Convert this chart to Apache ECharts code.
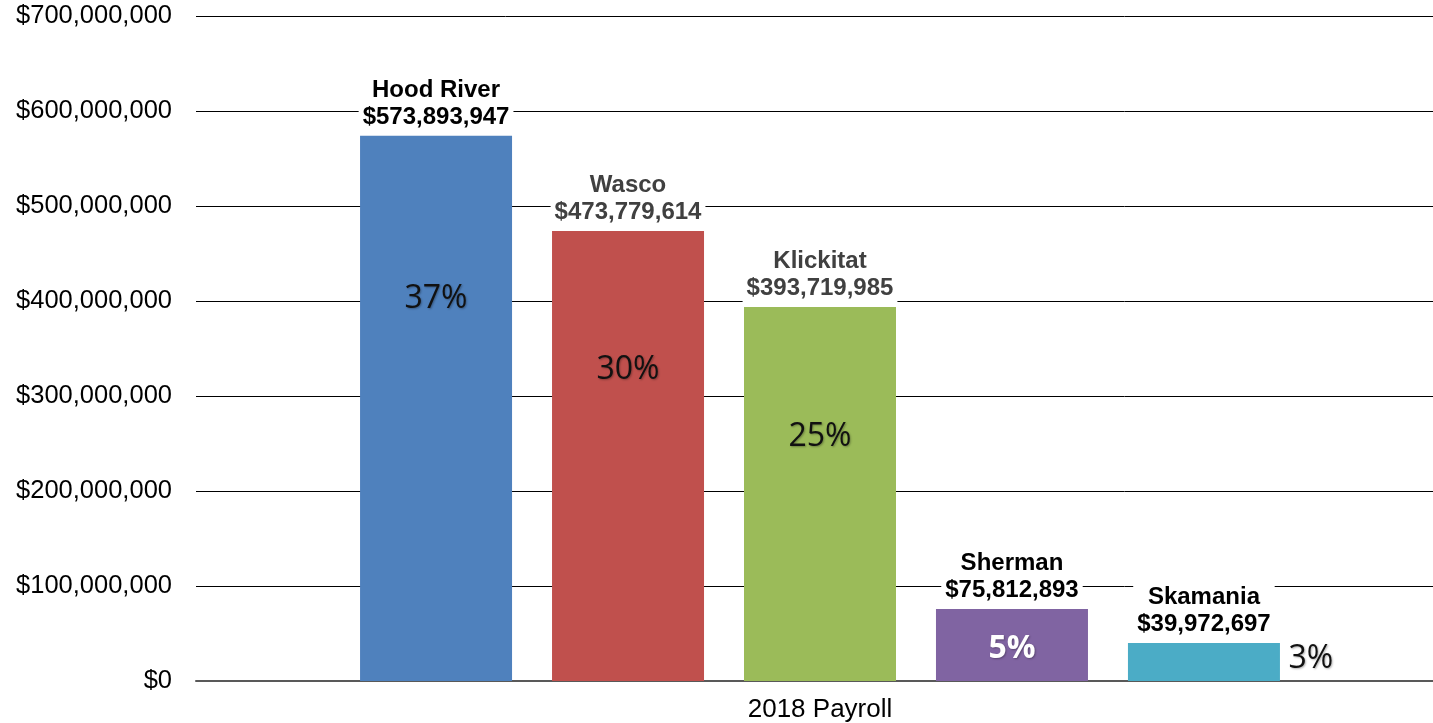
<!DOCTYPE html>
<html lang="en">
<head>
  <meta charset="UTF-8">
  <title>2018 Payroll</title>
  <style>
    * { box-sizing: border-box; padding: 0; margin: 0; }
    html, body, #main { width: 100%; height: 100%; background: #fff; }
  </style>
  <script src="https://cdn.jsdelivr.net/npm/echarts@6/dist/echarts.min.js"></script>
</head>
<body>
  <div id="main"></div>
  <script>
    // data
    var categories = ['2018 Payroll'];
    var counties = ['Hood River', 'Wasco', 'Klickitat', 'Sherman', 'Skamania'];
    var payroll = [573893947, 473779614, 393719985, 75812893, 39972697];
    var shares = ['37%', '30%', '25%', '5%', '3%'];

    // styling
    var barColors = ['#4F81BD', '#C0504D', '#9BBB59', '#8064A2', '#4BACC6'];
    var nameColors = ['#000', '#404040', '#404040', '#000', '#000'];
    var pctColors = ['#111', '#111', '#111', '#fff', '#111'];
    var pctOffsets = [[0, 163], [0, 139], [0, 130], [0, 40], [107, 16]];

    var font = '"Liberation Sans", Arial, sans-serif';
    var money = function (v) { return '$' + Number(v).toLocaleString('en-US'); };

    var series = counties.map(function (name, i) {
      return {
        name: name,
        type: 'bar',
        barWidth: 152,
        barGap: '26.3%',
        data: [payroll[i]],
        itemStyle: { color: barColors[i] },
        label: {
          show: true,
          position: 'top',
          distance: 5,
          formatter: name + '\n' + money(payroll[i]),
          fontFamily: font,
          fontSize: 24,
          fontWeight: 'bold',
          lineHeight: 27,
          color: nameColors[i],
          backgroundColor: '#fff',
          padding: [0, 4]
        },
        markPoint: {
          symbol: 'circle',
          symbolSize: 1,
          itemStyle: { color: 'rgba(0,0,0,0)' },
          data: [{ type: 'max' }],
          label: {
            show: true,
            position: 'inside',
            offset: pctOffsets[i],
            formatter: shares[i],
            fontFamily: '"Open Sans", sans-serif',
            fontSize: 32,
            fontWeight: i === 3 ? 'bold' : 'normal',
            color: pctColors[i],
            textShadowColor: 'rgba(0,0,0,0.3)',
            textShadowBlur: 2,
            textShadowOffsetX: 1,
            textShadowOffsetY: 1
          }
        }
      };
    });

    var myChart = echarts.init(document.getElementById('main'));
    var option = {
      animation: false,
      grid: {
        left: 196, right: -11, top: 16, bottom: 42,
        containLabel: false,
        outerBoundsMode: 'none'
      },
      xAxis: {
        type: 'category',
        data: categories,
        axisLine: { lineStyle: { color: '#595959', width: 2 } },
        axisTick: { show: false },
        axisLabel: { color: '#000', fontFamily: font, fontSize: 26, margin: 16 }
      },
      yAxis: {
        type: 'value',
        min: 0,
        max: 700000000,
        interval: 100000000,
        axisLine: { show: false },
        axisTick: { show: false },
        splitLine: { lineStyle: { color: '#000', width: 1 } },
        axisLabel: {
          color: '#000',
          fontFamily: font,
          fontSize: 25.5,
          margin: 24,
          formatter: money
        }
      },
      series: series
    };
    myChart.setOption(option);
    window.onresize = myChart.resize;
  </script>
</body>
</html>
